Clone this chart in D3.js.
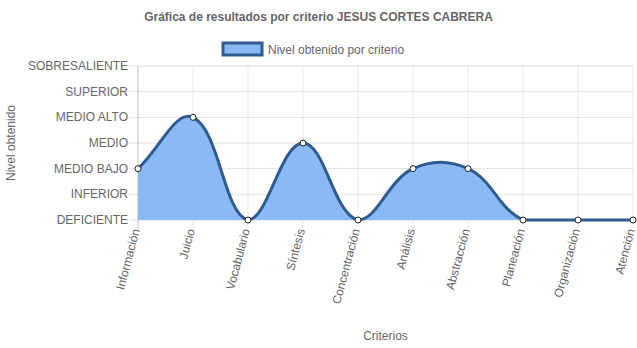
<!DOCTYPE html>
<html>
<head>
<meta charset="utf-8">
<script src="https://cdn.jsdelivr.net/npm/d3@7"></script>
<style>
  body { margin: 0; background: #fff; }
  svg { font-family: "Liberation Sans", Arial, Helvetica, sans-serif; }
</style>
</head>
<body>
<div id="chart"></div>
<script>
var criterios = ["Información", "Juicio", "Vocabulario", "Síntesis", "Concentración",
  "Análisis", "Abstracción", "Planeación", "Organización", "Atención"]
var niveles = ["DEFICIENTE", "INFERIOR", "MEDIO BAJO", "MEDIO", "MEDIO ALTO", "SUPERIOR", "SOBRESALIENTE"]
var valores = [2, 4, 0, 3, 0, 2, 2, 0, 0, 0]
var titulo = "Gráfica de resultados por criterio JESUS CORTES CABRERA"
var serieNombre = "Nivel obtenido por criterio"

var W = 637, H = 348
var margin = {top: 66, right: 4, bottom: 128, left: 138}
var width = W - margin.left - margin.right
var height = H - margin.top - margin.bottom

var svg = d3.select("#chart").append("svg")
  .attr("width", W).attr("height", H)

// title
svg.append("text")
  .attr("x", W / 2).attr("y", 21)
  .attr("text-anchor", "middle")
  .style("font-size", "12px").style("font-weight", "bold")
  .style("fill", "#666")
  .text(titulo)

// legend
svg.append("rect")
  .attr("x", 223).attr("y", 43).attr("width", 39).attr("height", 12)
  .style("fill", "#8ab9f5").style("stroke", "#2f5b8e").style("stroke-width", 3)
svg.append("text")
  .attr("x", 268).attr("y", 53.5)
  .style("font-size", "12px").style("fill", "#666")
  .text(serieNombre)

var g = svg.append("g")
  .attr("transform", "translate(" + margin.left + "," + margin.top + ")")

var x = d3.scalePoint().domain(criterios).range([0, width])
var y = d3.scaleLinear().domain([0, niveles.length - 1]).range([height, 0])

// grid lines
g.append("g").selectAll("line")
  .data(d3.range(niveles.length))
  .enter().append("line")
    .attr("x1", -9).attr("x2", width)
    .attr("y1", function(d){ return y(d) }).attr("y2", function(d){ return y(d) })
    .style("stroke", "rgba(0,0,0,0.12)")
g.append("g").selectAll("line")
  .data(criterios)
  .enter().append("line")
    .attr("x1", function(d){ return x(d) }).attr("x2", function(d){ return x(d) })
    .attr("y1", 0).attr("y2", height + 9)
    .style("stroke", function(d, i){ return i == 0 ? "rgba(0,0,0,0.25)" : "rgba(0,0,0,0.08)" })

// y tick labels
g.append("g").selectAll("text")
  .data(d3.range(niveles.length))
  .enter().append("text")
    .attr("x", -10).attr("y", function(d){ return y(d) + 4 })
    .attr("text-anchor", "end")
    .style("font-size", "12px").style("fill", "#666")
    .text(function(d){ return niveles[d] })

// x tick labels (rotated)
g.append("g").selectAll("text")
  .data(criterios)
  .enter().append("text")
    .attr("transform", function(d){ return "translate(" + (x(d) + 2) + "," + (height + 10) + ") rotate(-75)" })
    .attr("text-anchor", "end")
    .style("font-size", "12px").style("fill", "#666")
    .text(function(d){ return d })

// axis titles
svg.append("text")
  .attr("transform", "translate(15," + (margin.top + height / 2) + ") rotate(-90)")
  .attr("text-anchor", "middle")
  .style("font-size", "12px").style("fill", "#666")
  .text("Nivel obtenido")
svg.append("text")
  .attr("x", margin.left + width / 2).attr("y", 340)
  .attr("text-anchor", "middle")
  .style("font-size", "12px").style("fill", "#666")
  .text("Criterios")

// spline like chart.js (tension 0.4, control points capped to the area)
var pts = valores.map(function(v, i){ return [x(criterios[i]), y(v)] })
var tension = 0.4
var ctrl = pts.map(function(p, i){
  var prev = pts[i - 1] || p, next = pts[i + 1] || p
  var d01 = Math.hypot(p[0] - prev[0], p[1] - prev[1])
  var d12 = Math.hypot(next[0] - p[0], next[1] - p[1])
  var s01 = d01 / (d01 + d12), s12 = d12 / (d01 + d12)
  if (isNaN(s01)) s01 = 0
  if (isNaN(s12)) s12 = 0
  var fa = tension * s01, fb = tension * s12
  var cap = function(c){ return [Math.max(0, Math.min(width, c[0])), Math.max(0, Math.min(height, c[1]))] }
  return {
    prev: cap([p[0] - fa * (next[0] - prev[0]), p[1] - fa * (next[1] - prev[1])]),
    next: cap([p[0] + fb * (next[0] - prev[0]), p[1] + fb * (next[1] - prev[1])])
  }
})
function spline(path){
  path.moveTo(pts[0][0], pts[0][1])
  for (var i = 1; i < pts.length; i++) {
    path.bezierCurveTo(ctrl[i-1].next[0], ctrl[i-1].next[1], ctrl[i].prev[0], ctrl[i].prev[1], pts[i][0], pts[i][1])
  }
  return path
}
var linePath = spline(d3.path()).toString()
var areaPath = spline(d3.path())
areaPath.lineTo(pts[pts.length - 1][0], height)
areaPath.lineTo(pts[0][0], height)
areaPath.closePath()

g.append("path").attr("d", areaPath.toString())
  .style("fill", "#8ab9f5")
g.append("path").attr("d", linePath)
  .style("fill", "none").style("stroke", "#2f5b8e").style("stroke-width", 3)

g.selectAll("circle")
  .data(valores)
  .enter().append("circle")
    .attr("cx", function(d, i){ return x(criterios[i]) })
    .attr("cy", function(d){ return y(d) })
    .attr("r", 3)
    .style("fill", "#fff").style("stroke", "#222").style("stroke-width", 1)
</script>
</body>
</html>
